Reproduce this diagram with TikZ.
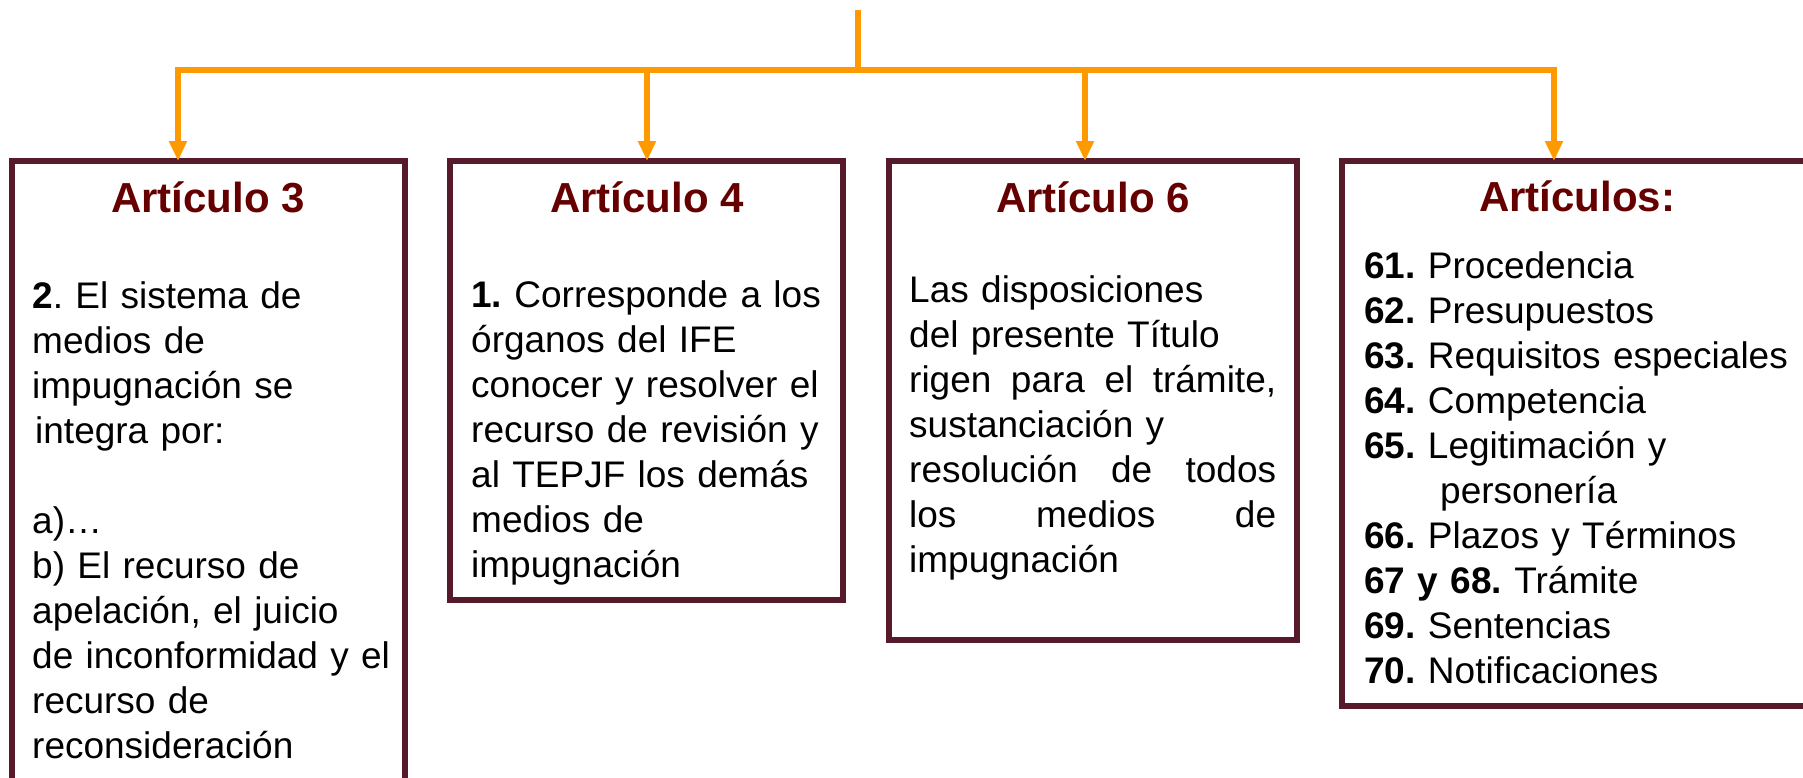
\documentclass[tikz,border=0pt]{standalone}
\usepackage{fontspec}
\setmainfont{Liberation Sans}
\usetikzlibrary{arrows.meta}
\definecolor{orangeline}{HTML}{FF9900}
\definecolor{boxborder}{HTML}{561A2A}
\definecolor{titlered}{HTML}{660000}
\frenchspacing
\newcommand{\jline}[1]{\leavevmode\hbox to 367pt{#1}}
\begin{document}
\begin{tikzpicture}[x=1pt,y=-1pt,
  box/.style={draw=boxborder, line width=6pt, rectangle, inner sep=0pt, outer sep=0pt, anchor=north west},
  ttl/.style={font=\fontsize{42}{50}\selectfont\bfseries, text=titlered, anchor=base, inner sep=0pt},
  body/.style={font=\fontsize{37}{45}\selectfont\frenchspacing, align=left, text width=460pt, anchor=base west, inner sep=0pt},
  conn/.style={draw=orangeline, line width=6pt},
  arr/.style={conn, -{Triangle[length=20pt,width=17pt]}}]
\useasboundingbox (0,0) rectangle (1803,777);
\clip (0,0) rectangle (1803,777);
% boxes
\node[box, minimum width=393pt, minimum height=700pt] (b1) at (12,161) {};
\node[box, minimum width=393pt, minimum height=439pt] (b2) at (450,161) {};
\node[box, minimum width=408pt, minimum height=479pt] (b3) at (889,161) {};
\node[box, minimum width=480pt, minimum height=545pt] (b4) at (1342,161) {};
% titles
\node[ttl] (t1) at (208,212) {Artículo 3};
\node[ttl] (t2) at (647,212) {Artículo 4};
\node[ttl] (t3) at (1093,212) {Artículo 6};
\node[ttl] (t4) at (1577,211) {Artículos:};
% bodies
\node[body] (x1) at (32,308) {\textbf{2}. El sistema de\\
medios de\\
impugnación se\\
\hspace*{3pt}integra por:\\[45pt]
a)…\\
b) El recurso de\\
apelación, el juicio\\
de inconformidad y el\\
recurso de\\
reconsideración};
\node[body] (x2) at (471,307) {\textbf{1.} Corresponde a los\\
órganos del IFE\\
conocer y resolver el\\
recurso de revisión y\\
al TEPJF los demás\\
medios de\\
impugnación};
\node[body] (x3) at (909,302) {Las disposiciones\\
del presente Título\\
\jline{rigen\hfill para\hfill el\hfill trámite,}\\
sustanciación y\\
\jline{resolución\hfill de\hfill todos}\\
\jline{los\hfill medios\hfill de}\\
impugnación};
\node[body] (x4) at (1364,278) {\textbf{61.} Procedencia\\
\textbf{62.} Presupuestos\\
\textbf{63.} Requisitos especiales\\
\textbf{64.} Competencia\\
\textbf{65.} Legitimación y\\
\hspace*{76pt}personería\\
\textbf{66.} Plazos y Términos\\
\textbf{67 y 68.} Trámite\\
\textbf{69.} Sentencias\\
\textbf{70.} Notificaciones};
% connectors
\coordinate (top) at (858,10);
\coordinate (hub) at (858,70);
\coordinate (hl) at (178,70);
\coordinate (j2) at (647,70);
\coordinate (j3) at (1085,70);
\coordinate (hr) at (1554,70);
\draw[conn] (top) -- (hub);
\draw[conn, line cap=rect] (hl) -- (hr);
\draw[arr] (hl) -- (hl |- b1.north);
\draw[arr] (j2) -- (j2 |- b2.north);
\draw[arr] (j3) -- (j3 |- b3.north);
\draw[arr] (hr) -- (hr |- b4.north);
\end{tikzpicture}
\end{document}
